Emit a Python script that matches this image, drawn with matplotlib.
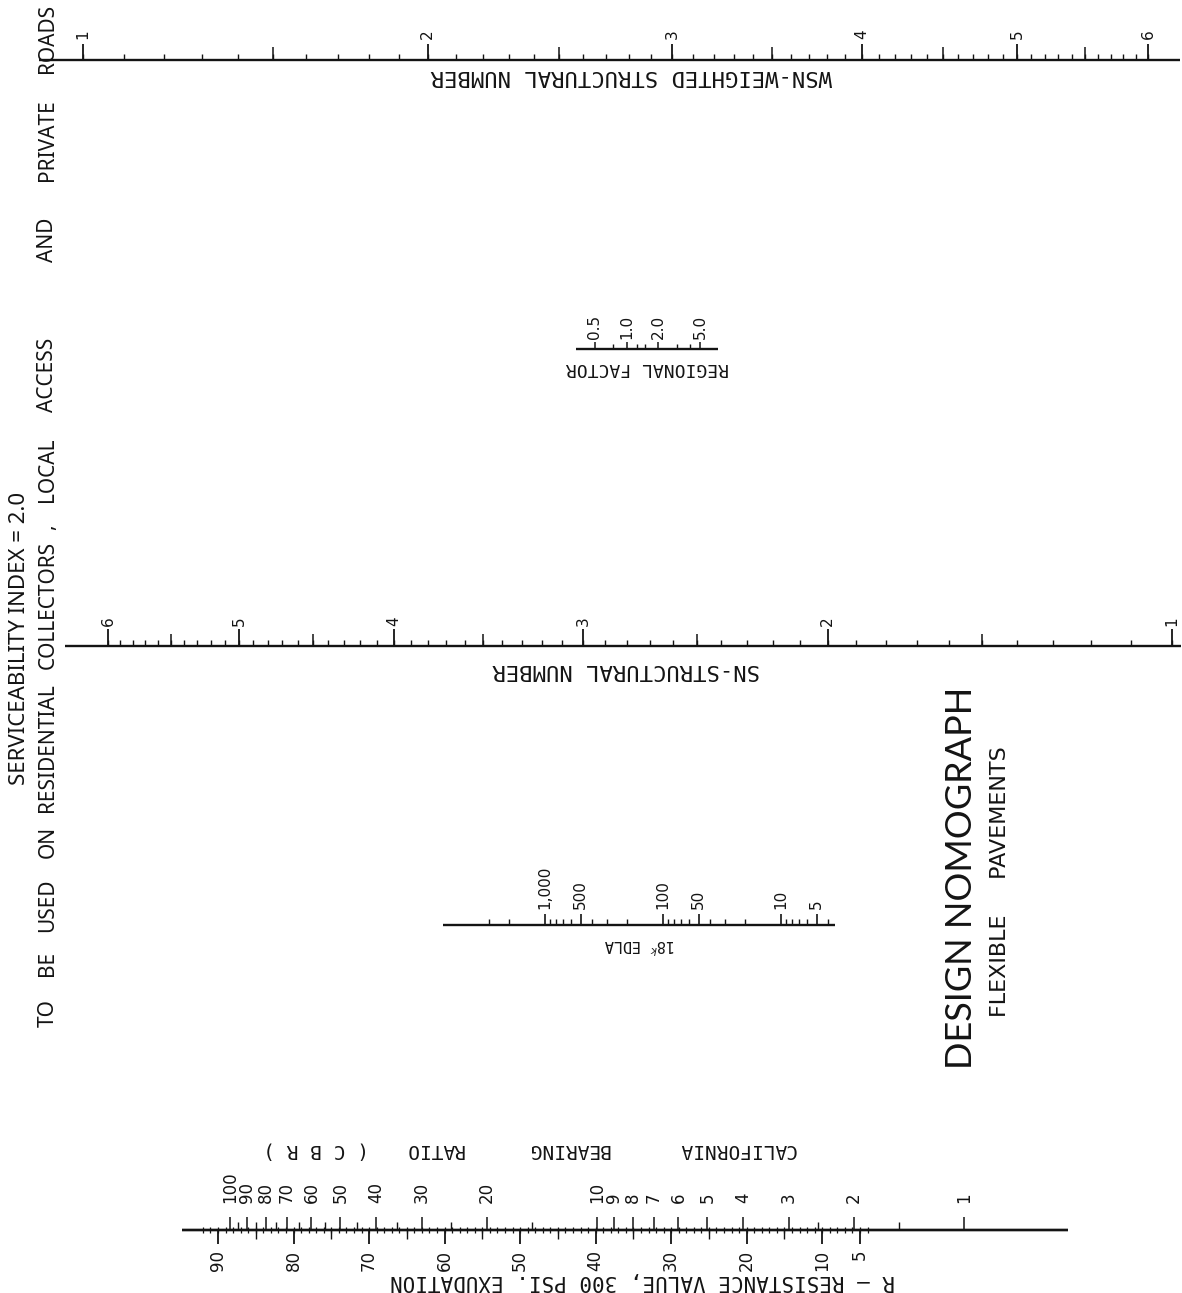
import numpy as np
import matplotlib
matplotlib.use('Agg')
import matplotlib.pyplot as plt

W, H = 1182, 1293
INK = '#141414'
MONO = 'DejaVu Sans Mono'

# WSN - weighted structural number (top scale)
wsn_labels = [1, 2, 3, 4, 5, 6]
wsn_half = [1.5, 2.5, 3.5, 4.5, 5.5]
wsn_minor = np.round(np.arange(1.0, 6.01, 0.1), 1)

# regional factor
rf_labels = [0.5, 1.0, 2.0, 5.0]
rf_label_text = ['0.5', '1.0', '2.0', '5.0']
rf_minor = [0.75, 1.25, 1.5, 3.0, 4.0]

# SN - structural number
sn_labels = [6, 5, 4, 3, 2, 1]
sn_half = [5.5, 4.5, 3.5, 2.5, 1.5]
sn_minor = np.round(np.arange(1.0, 6.01, 0.1), 1)

# 18k EDLA
edla_labels = [1000, 500, 100, 50, 10, 5]
edla_label_text = ['1,000', '500', '100', '50', '10', '5']
edla_minor = [3000, 2000, 900, 800, 700, 600, 400, 300, 200,
              90, 80, 70, 60, 40, 30, 20, 9, 8, 7, 6, 4]

# R - resistance value
r_labels = [90, 80, 70, 60, 50, 40, 30, 20, 10, 5]
r_fives = [85, 75, 65, 55, 45, 35, 25, 15]
r_minor = np.arange(4, 93, 1)

# CBR
cbr_labels = [100, 90, 80, 70, 60, 50, 40, 30, 20, 10, 9, 8, 7, 6, 5, 4, 3, 2, 1]
cbr_minor = [95, 85, 75, 65, 55, 45, 35, 25, 15, 2.5, 1.5]

left_line2 = ['TO', 'BE', 'USED', 'ON', 'RESIDENTIAL', 'COLLECTORS', ',',
              'LOCAL', 'ACCESS', 'AND', 'PRIVATE', 'ROADS']
left_line2_y = [1013, 963, 905, 842, 748, 605, 527, 470, 375, 240, 140, 38]

cbr_words = ['CALIFORNIA', 'BEARING', 'RATIO', '( C B R )']
cbr_words_x = [737, 568, 434, 316]


def fwd_sn(v):
    return np.log10(np.clip(v, 1e-6, None) + 1)


def inv_sn(u):
    return 10 ** np.asarray(u) - 1


fig = plt.figure(figsize=(W / 100, H / 100), dpi=100)
fig.patch.set_facecolor('white')


def make_scale(px_a, val_a, px_b, val_b, v_left, v_right, base_y,
               above=50, below=30, kind='linear'):
    if kind == 'log':
        f = np.log10
    elif kind == 'sn':
        f = fwd_sn
    else:
        f = lambda v: v
    k = (px_b - px_a) / (f(val_b) - f(val_a))
    x0 = px_a + k * (f(v_left) - f(val_a))
    x1 = px_a + k * (f(v_right) - f(val_a))
    ax = fig.add_axes([x0 / W, 1 - (base_y + below) / H,
                       (x1 - x0) / W, (above + below) / H])
    if kind == 'log':
        ax.set_xscale('log')
    elif kind == 'sn':
        ax.set_xscale('function', functions=(fwd_sn, inv_sn))
    ax.set_xlim(v_left, v_right)
    ax.set_ylim(-below, above)
    ax.axis('off')
    ax.patch.set_alpha(0)
    ax.axhline(0, color=INK, lw=1.7)
    return ax


def caption(x, y, s, size, rot=180, family=MONO, **kw):
    fig.text(x / W, 1 - y / H, s, rotation=rot, ha='center', va='center',
             fontsize=size, family=family, color=INK, **kw)


# top: WSN
ax = make_scale(83, 1, 1148, 6, 0.9, 6.27, 60, above=50, below=5, kind='sn')
ax.vlines(wsn_minor, 0, 6, color=INK, lw=1)
ax.vlines(wsn_half, 0, 13, color=INK, lw=1.1)
ax.vlines(wsn_labels, 0, 16, color=INK, lw=1.3)
for v in wsn_labels:
    ax.text(v, 21, str(v), rotation=90, ha='center', va='bottom', fontsize=11, color=INK)
caption(631, 76, 'WSN-WEIGHTED STRUCTURAL NUMBER', 16)

# regional factor
ax = make_scale(595, 0.5, 700, 5.0, 0.33, 7.4, 349, above=50, below=5, kind='log')
ax.vlines(rf_minor, 0, 5, color=INK, lw=1)
ax.vlines(rf_labels, 0, 7, color=INK, lw=1.1)
for v, s in zip(rf_labels, rf_label_text):
    ax.text(v, 10, s, rotation=90, ha='center', va='bottom', fontsize=11, color=INK)
caption(647, 368, 'REGIONAL FACTOR', 13)

# SN
ax = make_scale(1172, 1, 108, 6, 6.36, 0.98, 646, above=50, below=5, kind='sn')
ax.vlines(sn_minor, 0, 6, color=INK, lw=1)
ax.vlines(sn_half, 0, 12, color=INK, lw=1.1)
ax.vlines(sn_labels, 0, 17, color=INK, lw=1.3)
for v in sn_labels:
    ax.text(v, 20, str(v), rotation=90, ha='center', va='bottom', fontsize=11, color=INK)
caption(626, 670, 'SN-STRUCTURAL NUMBER', 16)

# 18k EDLA
ax = make_scale(545, 1000, 781, 10, 7300, 3.49, 925, above=60, below=5, kind='log')
ax.vlines(edla_minor, 0, 6, color=INK, lw=1)
ax.vlines(edla_labels, 0, 11, color=INK, lw=1.2)
for v, s in zip(edla_labels, edla_label_text):
    ax.text(v, 16, s, rotation=90, ha='center', va='bottom', fontsize=11, color=INK)
caption(640, 945, r'18$^{k}$ EDLA', 11)

# R value (below) and CBR (above) share one line
ax = make_scale(218, 90, 860, 5, 94.8, -22.5, 1230, above=40, below=45)
ax.vlines(r_minor, -3, 3, color=INK, lw=0.9)
ax.vlines(r_fives, -9, 0, color=INK, lw=1)
ax.vlines(r_labels, -14, 0, color=INK, lw=1.3)
for v in r_labels:
    ax.text(v, -20, str(v), rotation=90, ha='center', va='top', fontsize=12, color=INK)

ax = make_scale(230, 100, 964, 1, 135, 0.52, 1230, above=40, below=45, kind='log')
ax.vlines(cbr_minor, 0, 8, color=INK, lw=1)
ax.vlines(cbr_labels, 0, 13, color=INK, lw=1.1)
for v in cbr_labels:
    ax.text(v, 27, str(v), rotation=90, ha='center', va='bottom', fontsize=12, color=INK)

caption(643, 1281, 'R – RESISTANCE VALUE, 300 PSI. EXUDATION', 15)
for s, x in zip(cbr_words, cbr_words_x):
    caption(x, 1150, s, 14)

# side notes
caption(20, 638, 'SERVICEABILITY INDEX = 2.0', 16, rot=90,
        family='Noto Sans', fontstretch='condensed')
for s, y in zip(left_line2, left_line2_y):
    caption(48, y, s, 15, rot=90, family='Noto Sans', fontstretch='condensed')

# title
caption(962, 878, 'DESIGN NOMOGRAPH', 26, rot=90, family='Lato')
caption(1000, 882, 'FLEXIBLE     PAVEMENTS', 16, rot=90, family='DejaVu Sans')

fig.savefig('out.png', dpi=100, facecolor='white')
